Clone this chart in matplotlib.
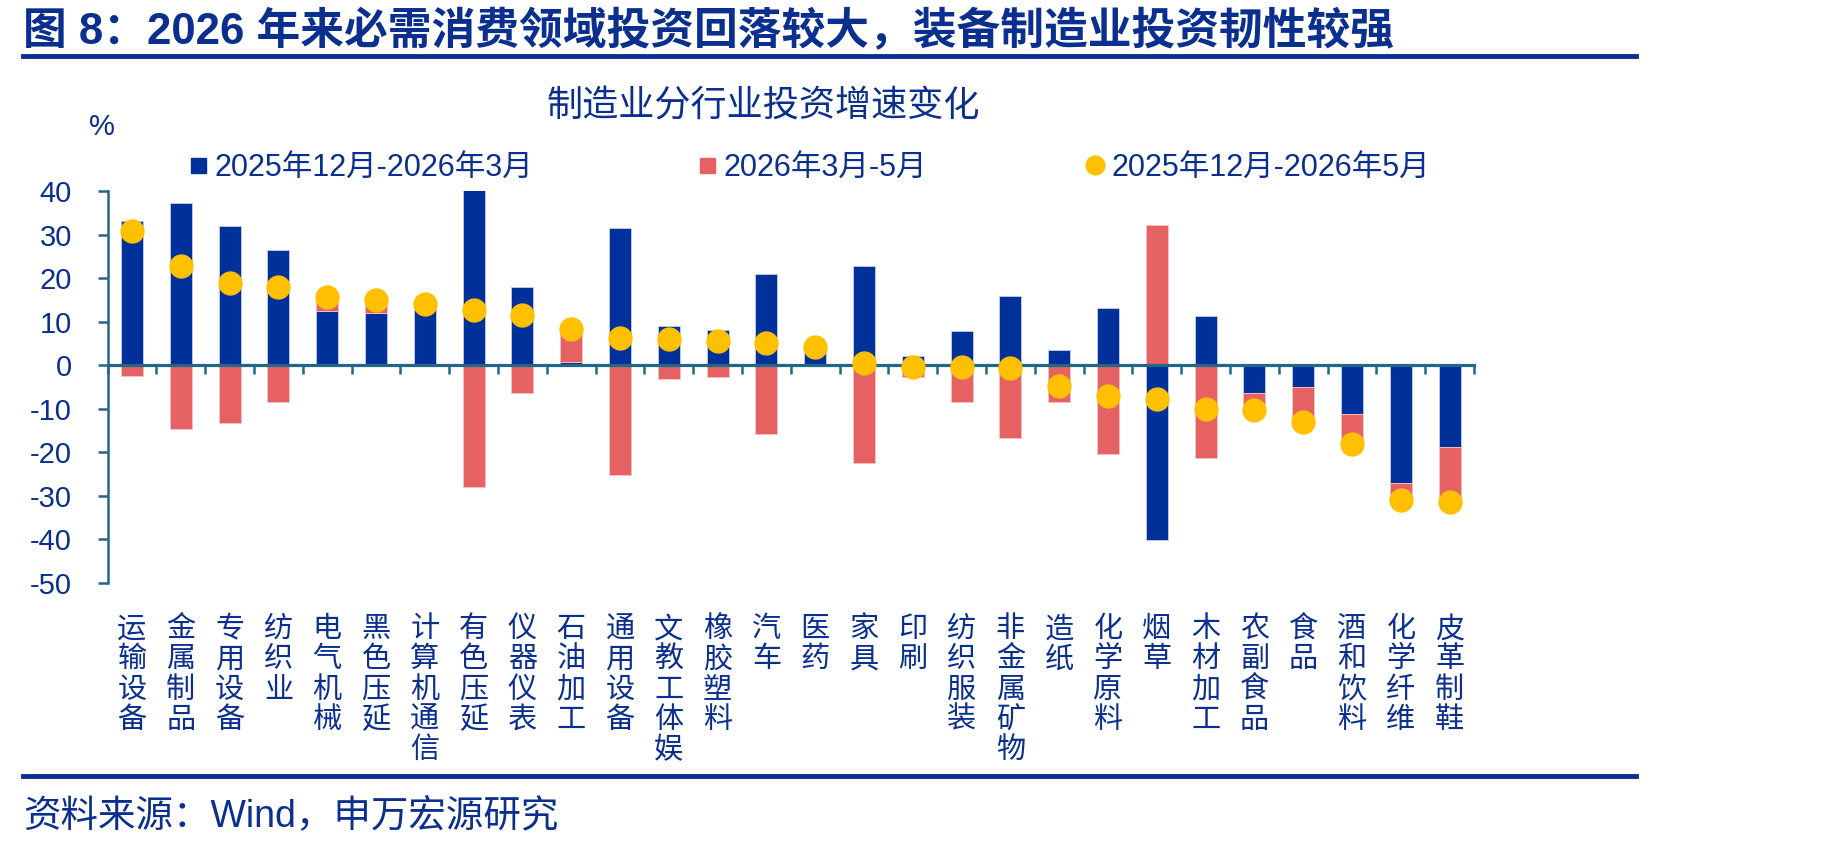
import numpy as np
import matplotlib.pyplot as plt

plt.rcParams['font.family'] = ['Liberation Sans', 'Noto Sans CJK SC', 'DejaVu Sans']

industries = ['运输设备', '金属制品', '专用设备', '纺织业', '电气机械', '黑色压延', '计算机通信',
              '有色压延', '仪器仪表', '石油加工', '通用设备', '文教工体娱', '橡胶塑料', '汽车',
              '医药', '家具', '印刷', '纺织服装', '非金属矿物', '造纸', '化学原料', '烟草',
              '木材加工', '农副食品', '食品', '酒和饮料', '化学纤维', '皮革制鞋']
dec_mar = [33.2, 37.2, 31.9, 26.4, 12.5, 11.9, 14.0, 40.6, 17.9, 0.8, 31.4, 9.0, 8.0, 21.0,
           2.7, 22.8, 2.1, 7.8, 16.0, 3.4, 13.2, -40.1, 11.3, -6.4, -5.1, -11.3, -27.1, -18.8]
mar_may = [-2.5, -14.6, -13.2, -8.4, 3.1, 3.1, 0.1, -28.0, -6.4, 7.5, -25.1, -3.2, -2.6, -15.9,
           1.5, -22.5, -2.7, -8.4, -16.6, -8.4, -20.3, 32.3, -21.3, -3.9, -7.9, -6.8, -3.9, -12.5]
dec_may = [30.8, 22.7, 18.9, 18.0, 15.6, 15.0, 14.1, 12.6, 11.6, 8.3, 6.3, 6.0, 5.5, 5.2,
           4.2, 0.5, -0.4, -0.5, -0.6, -4.8, -7.1, -7.7, -10.0, -10.3, -13.0, -18.1, -31.0, -31.3]
yticks = [40, 30, 20, 10, 0, -10, -20, -30, -40, -50]
labels = ['2025年12月-2026年3月', '2026年3月-5月', '2025年12月-2026年5月']

navy = '#0A2F8E'
blue = '#00309A'
red = '#E66162'
gold = '#FFC000'
axis_c = '#22678A'

fig = plt.figure(figsize=(18.38, 8.52), dpi=100)
ax = fig.add_axes([0.0585, 0.3157, 0.7435, 0.4601])

x = np.arange(len(industries))
b1 = np.array(dec_mar)
b2 = np.array(mar_may)
# Excel-style stacking: same-sign values stack, opposite signs start from zero
bottom2 = np.where(np.sign(b1) == np.sign(b2), b1, 0)

ax.bar(x, b1, width=0.45, color=blue, edgecolor='#C9CDEB', linewidth=0.6, zorder=2)
ax.bar(x, b2, width=0.45, bottom=bottom2, color=red, edgecolor='#F3C4C4', linewidth=0.6, zorder=2)
ax.plot(x, dec_may, 'o', color=gold, markersize=16.5, zorder=3)

ax.set_xlim(-0.5, len(industries) - 0.5)
ax.set_ylim(-50, 40)
ax.set_yticks(yticks)
ax.set_yticklabels([str(v) for v in yticks], fontsize=21, color=navy)
ax.tick_params(axis='y', direction='out', length=7.2, width=1.8, color=axis_c, pad=18.5)

for s in ['top', 'right']:
    ax.spines[s].set_visible(False)
ax.spines['left'].set_color(axis_c)
ax.spines['left'].set_linewidth(1.8)
ax.spines['bottom'].set_position(('data', 0))
ax.spines['bottom'].set_color(axis_c)
ax.spines['bottom'].set_linewidth(2.3)
ax.set_xticks(np.arange(len(industries) + 1) - 0.5)
ax.set_xticklabels([])
ax.tick_params(axis='x', direction='out', length=6.5, width=1.8, color=axis_c)

for i, name in enumerate(industries):
    ax.text(i, -0.082, '\n'.join(name), transform=ax.get_xaxis_transform(),
            ha='center', va='top', fontsize=21, color=navy, linespacing=1.10)

fig.text(0.0125, 0.9625, '图 8：2026 年来必需消费领域投资回落较大，装备制造业投资韧性较强',
         fontsize=31.5, fontweight='bold', color=navy, va='center', ha='left')
fig.add_artist(plt.Line2D([0.0125, 0.89], [0.934, 0.934], color=navy, linewidth=3.5))
fig.text(0.415, 0.874, '制造业分行业投资增速变化', fontsize=26, color=navy, ha='center', va='center')
fig.text(0.0555, 0.851, '%', fontsize=21, color=navy, ha='center', va='center')

handles = [plt.Line2D([], [], marker='s', linestyle='none', color=blue, markersize=10.8),
           plt.Line2D([], [], marker='s', linestyle='none', color=red, markersize=10.8),
           plt.Line2D([], [], marker='o', linestyle='none', color=gold, markersize=13.5)]
anchors = [0.1026, 0.3795, 0.5905]
for h, lab, ax0 in zip(handles, labels, anchors):
    leg = fig.legend([h], [lab], loc='center left', bbox_to_anchor=(ax0, 0.803),
                     frameon=False, fontsize=22, handletextpad=0.25, handlelength=0.6,
                     borderpad=0, borderaxespad=0)
    for t in leg.get_texts():
        t.set_color(navy)

fig.add_artist(plt.Line2D([0.0125, 0.89], [0.089, 0.089], color=navy, linewidth=3.5))
fig.text(0.0125, 0.041, '资料来源：Wind，申万宏源研究', fontsize=27, color=navy, va='center', ha='left')

fig.savefig('out.png', dpi=100)
